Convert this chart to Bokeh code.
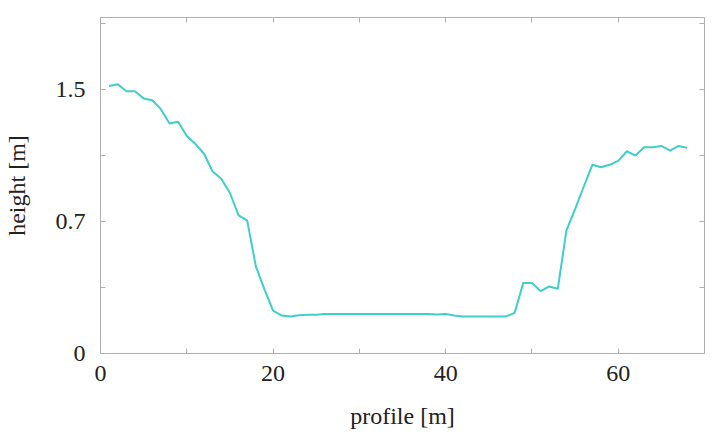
from bokeh.plotting import figure
from bokeh.models import LinearAxis, FixedTicker, CustomJSTickFormatter, Range1d
from bokeh.embed import file_html
from bokeh.resources import INLINE

# data
profile_m = list(range(1, 69))
height_m = [
    1.50, 1.51, 1.47, 1.47, 1.43, 1.42, 1.37, 1.29, 1.30, 1.22,
    1.175, 1.12, 1.02, 0.98, 0.90, 0.775, 0.745, 0.49, 0.36, 0.24,
    0.213, 0.208, 0.215, 0.217, 0.217, 0.222, 0.222, 0.222, 0.222, 0.222,
    0.222, 0.222, 0.222, 0.222, 0.222, 0.222, 0.222, 0.222, 0.218, 0.222,
    0.213, 0.208, 0.208, 0.208, 0.208, 0.208, 0.208, 0.228, 0.396, 0.396,
    0.35, 0.376, 0.363, 0.69, 0.81, 0.935, 1.058, 1.044, 1.058, 1.08,
    1.134, 1.11, 1.156, 1.156, 1.164, 1.138, 1.164, 1.153,
]
x_major = [0, 20, 40, 60]
x_minor = [10, 30, 50, 70]
y_major = [0, 0.74, 1.48]
y_minor = [0.37, 1.11, 1.85]

FONT = "'Liberation Serif', serif"
TXT = "#222222"
GRID = "#b0b0b0"

p = figure(width=712, height=435, output_backend="svg", toolbar_location=None,
           x_range=Range1d(0, 70), y_range=Range1d(0, 1.884),
           min_border_left=98, min_border_right=8, min_border_top=17, min_border_bottom=82,
           x_axis_label="profile [m]", y_axis_label="height [m]")
p.grid.visible = False
p.outline_line_color = GRID
p.background_fill_color = "white"
p.border_fill_color = "white"

p.line(profile_m, height_m, line_color="#3fcfc9", line_width=2)

xt = FixedTicker(ticks=x_major, minor_ticks=x_minor)
yt = FixedTicker(ticks=y_major, minor_ticks=y_minor)
yfmt = CustomJSTickFormatter(code="return tick < 0.01 ? '0' : tick.toFixed(1);")
blank = CustomJSTickFormatter(code="return '';")

def style(ax, labels=True):
    ax.axis_line_color = GRID
    ax.major_tick_line_color = GRID
    ax.minor_tick_line_color = GRID
    ax.major_tick_in = 5
    ax.major_tick_out = 0
    ax.minor_tick_in = 5
    ax.minor_tick_out = 0
    ax.major_label_text_font = FONT
    ax.major_label_text_font_size = "24px"
    ax.major_label_text_color = TXT
    ax.axis_label_text_font = FONT
    ax.axis_label_text_font_size = "24px"
    ax.axis_label_text_font_style = "normal"
    ax.axis_label_text_color = TXT
    if not labels:
        ax.formatter = blank
        ax.major_label_standoff = 0
        ax.axis_line_color = None

xa = p.xaxis[0]
xa.ticker = xt
style(xa)
xa.major_label_standoff = 12
xa.axis_label_standoff = 19

ya = p.yaxis[0]
ya.ticker = yt
ya.formatter = yfmt
style(ya)
ya.major_label_standoff = 15
ya.axis_label_standoff = 23

top = LinearAxis(ticker=FixedTicker(ticks=x_major, minor_ticks=x_minor))
style(top, labels=False)
p.add_layout(top, "above")
right = LinearAxis(ticker=FixedTicker(ticks=y_major, minor_ticks=y_minor))
style(right, labels=False)
p.add_layout(right, "right")

open("out.html", "w").write(file_html(p, INLINE))
